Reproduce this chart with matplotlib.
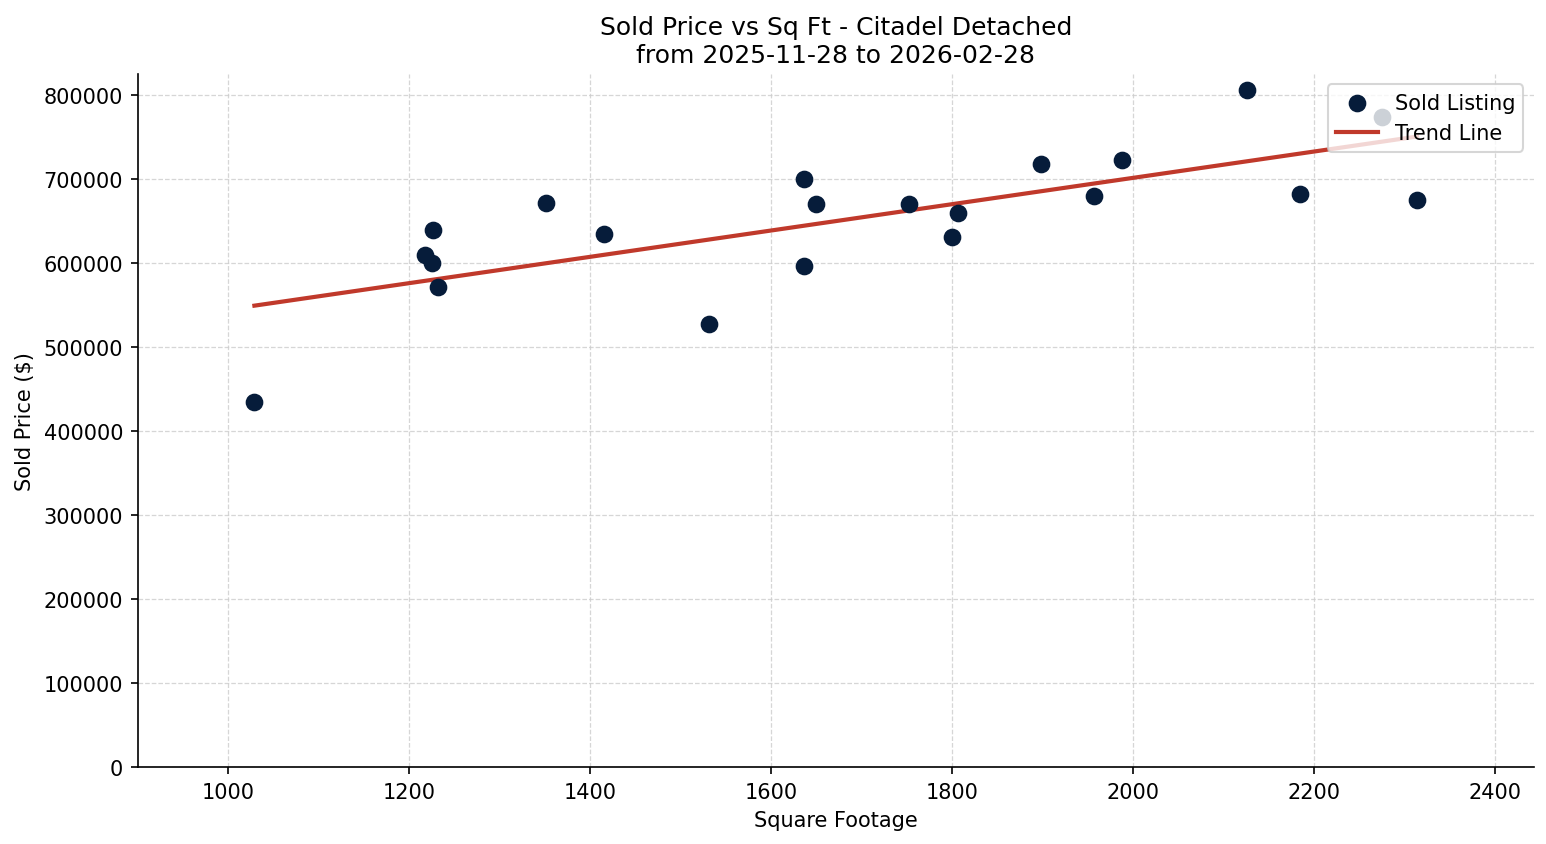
import numpy as np
import matplotlib
matplotlib.use('Agg')
import matplotlib.pyplot as plt

# Sold listings
sqft = [1029, 1217, 1226, 1225, 1232, 1351, 1415, 1531, 1636, 1636, 1650,
        1753, 1800, 1807, 1898, 1957, 1988, 2126, 2185, 2275, 2314]
sold_price = [434500, 609500, 639300, 600000, 571400, 671400, 634500, 527400,
              700000, 596400, 670200, 670200, 631000, 659500, 717900, 679800,
              722600, 806000, 682100, 773800, 675000]

TITLE = "Sold Price vs Sq Ft - Citadel Detached\nfrom 2025-11-28 to 2026-02-28"

x = np.array(sqft, dtype=float)
y = np.array(sold_price, dtype=float)

# Least squares trend
slope, intercept = np.polyfit(x, y, 1)
x_line = np.array([x.min(), x.max()])
y_line = slope * x_line + intercept

fig = plt.figure(figsize=(10.313, 5.633), dpi=150)
ax = fig.add_axes([0.0890, 0.0911, 0.9025, 0.8201])

ax.scatter(x, y, s=56, color='#061c3a', label='Sold Listing', zorder=3)
ax.plot(x_line, y_line, color='#c0392b', lw=2, label='Trend Line', zorder=2)

ax.set_xlim(900, 2443)
ax.set_ylim(0, 825000)
ax.set_xticks(np.arange(1000, 2401, 200))
ax.set_yticks(np.arange(0, 800001, 100000))

ax.set_title(TITLE, fontsize=12)
ax.set_xlabel("Square Footage")
ax.set_ylabel("Sold Price ($)")

ax.grid(True, linestyle='--', linewidth=0.6, color='#cccccc', alpha=0.8)
ax.set_axisbelow(True)
for side in ['top', 'right']:
    ax.spines[side].set_visible(False)

ax.legend(loc='upper right')

fig.savefig('out.png', dpi=150)
